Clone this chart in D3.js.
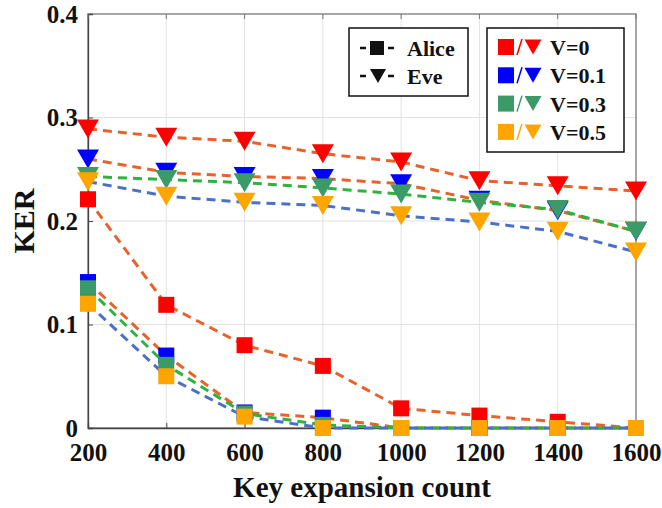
<!DOCTYPE html>
<html>
<head>
<meta charset="utf-8">
<script src="https://cdn.jsdelivr.net/npm/d3@7"></script>
<style>
  body { margin: 0; background: #fff; }
  text { font-family: "Liberation Serif", "Times New Roman", serif; font-weight: bold; fill: #111; }
</style>
</head>
<body>
<div id="chart"></div>
<script>
// key expansion counts (x)
const keyCounts = [200, 400, 600, 800, 1000, 1200, 1400, 1600];

// Alice KER for each V
const aliceV0  = [0.221, 0.119, 0.080, 0.060, 0.019, 0.012, 0.006, 0];
const aliceV01 = [0.141, 0.070, 0.015, 0.010, 0, 0, 0, 0];
const aliceV03 = [0.135, 0.061, 0.014, 0.003, 0, 0, 0, 0];
const aliceV05 = [0.120, 0.050, 0.011, 0, 0, 0, 0, 0];

// Eve KER for each V
const eveV0  = [0.289, 0.281, 0.277, 0.265, 0.257, 0.239, 0.234, 0.229];
const eveV01 = [0.260, 0.247, 0.243, 0.241, 0.236, 0.220, 0.210, 0.190];
const eveV03 = [0.243, 0.240, 0.237, 0.232, 0.226, 0.218, 0.211, 0.190];
const eveV05 = [0.238, 0.224, 0.218, 0.215, 0.205, 0.199, 0.190, 0.170];

const vLabels = ["V=0", "V=0.1", "V=0.3", "V=0.5"];
const userLabels = ["Alice", "Eve"];
const yTicks = [0, 0.1, 0.2, 0.3, 0.4];

const markerColor = ["#ff0000", "#0000ff", "#3a9a68", "#ffa500"];
const lineColor = ["#e8622c", "#e8622c", "#2fb33f", "#4a70c8"];

const W = 662, H = 508;
const svg = d3.select("#chart").append("svg")
  .attr("width", W).attr("height", H);

const x = d3.scaleLinear().domain([200, 1600]).range([88, 636]);
const y = d3.scaleLinear().domain([0, 0.4]).range([428, 14]);

// grid
svg.append("g").selectAll("line").data(keyCounts.slice(1, -1)).join("line")
  .attr("x1", d => x(d)).attr("x2", d => x(d))
  .attr("y1", y(0.4)).attr("y2", y(0))
  .attr("stroke", "#e2e2e2").attr("stroke-width", 1);
svg.append("g").selectAll("line").data(yTicks.slice(1, -1)).join("line")
  .attr("x1", x(200)).attr("x2", x(1600))
  .attr("y1", d => y(d)).attr("y2", d => y(d))
  .attr("stroke", "#e2e2e2").attr("stroke-width", 1);

// frame
svg.append("rect")
  .attr("x", x(200)).attr("y", y(0.4))
  .attr("width", x(1600) - x(200)).attr("height", y(0) - y(0.4))
  .attr("fill", "none").attr("stroke", "#777").attr("stroke-width", 1.3);

// axes
const xAxis = svg.append("g").attr("transform", `translate(0,${y(0)})`)
  .call(d3.axisBottom(x).tickValues(keyCounts).tickSize(-5).tickPadding(10).tickFormat(d3.format("d")));
const yAxis = svg.append("g").attr("transform", `translate(${x(200)},0)`)
  .call(d3.axisLeft(y).tickValues(yTicks).tickSize(-5).tickPadding(10).tickFormat(d3.format("~g")));
[xAxis, yAxis].forEach(a => {
  a.attr("font-family", null);
  a.select(".domain").attr("stroke", "#444").attr("stroke-width", 1.3);
  a.selectAll(".tick line").attr("stroke", "#444");
  a.selectAll(".tick text").style("font-size", "25px")
    .style("font-family", "'Liberation Serif', serif").style("font-weight", "bold").attr("fill", "#111");
});
xAxis.selectAll(".tick text").attr("dy", "0.9em");
// top ticks
svg.append("g").selectAll("line").data(keyCounts).join("line")
  .attr("x1", d => x(d)).attr("x2", d => x(d))
  .attr("y1", y(0.4)).attr("y2", y(0.4) + 5).attr("stroke", "#777");

svg.append("text").attr("x", (x(200) + x(1600)) / 2).attr("y", 497)
  .attr("text-anchor", "middle").style("font-size", "29px").text("Key expansion count");
svg.append("text")
  .attr("transform", `translate(34,${(y(0) + y(0.4)) / 2}) rotate(-90)`)
  .attr("text-anchor", "middle").style("font-size", "30px").text("KER");

const triW = 22, triH = 19, sq = 16;
const triPath = (w, h) => `M${-w / 2},${-h / 2}L${w / 2},${-h / 2}L0,${h / 2}Z`;

const line = d3.line().x((d, i) => x(keyCounts[i])).y(d => y(d));

const alice = [aliceV0, aliceV01, aliceV03, aliceV05];
const eve = [eveV0, eveV01, eveV03, eveV05];

function drawSeries(vals, k, kind) {
  const g = svg.append("g");
  g.append("path").datum(vals).attr("d", line)
    .attr("fill", "none").attr("stroke", lineColor[k])
    .attr("stroke-width", 3).attr("stroke-dasharray", "9,6");
  if (kind === "sq") {
    g.selectAll("rect").data(vals).join("rect")
      .attr("x", (d, i) => x(keyCounts[i]) - sq / 2).attr("y", d => y(d) - sq / 2)
      .attr("width", sq).attr("height", sq).attr("fill", markerColor[k]);
  } else {
    g.selectAll("path.m").data(vals).join("path").attr("class", "m")
      .attr("transform", (d, i) => `translate(${x(keyCounts[i])},${y(d)})`)
      .attr("d", triPath(triW, triH)).attr("fill", markerColor[k]);
  }
}
alice.forEach((v, k) => drawSeries(v, k, "sq"));
eve.forEach((v, k) => drawSeries(v, k, "tri"));

// legend: users
const lg1 = svg.append("g");
lg1.append("rect").attr("x", 349).attr("y", 28).attr("width", 119).attr("height", 68)
  .attr("fill", "#fff").attr("stroke", "#111").attr("stroke-width", 1.5);
userLabels.forEach((lab, i) => {
  const cy = 48 + i * 28;
  const r = lg1.append("g");
  r.append("line").attr("x1", 360).attr("x2", 366).attr("y1", cy).attr("y2", cy).attr("stroke", "#111").attr("stroke-width", 2.5);
  r.append("line").attr("x1", 388).attr("x2", 394).attr("y1", cy).attr("y2", cy).attr("stroke", "#111").attr("stroke-width", 2.5);
  if (i === 0) {
    r.append("rect").attr("x", 370).attr("y", cy - 7).attr("width", 14).attr("height", 14).attr("fill", "#111");
  } else {
    r.append("path").attr("transform", `translate(378,${cy})`).attr("d", triPath(16, 14)).attr("fill", "#111");
  }
  r.append("text").attr("x", 407).attr("y", cy + 8).style("font-size", "22px").text(lab);
});

// legend: V
const lg2 = svg.append("g");
lg2.append("rect").attr("x", 487).attr("y", 28).attr("width", 137).attr("height", 124)
  .attr("fill", "#fff").attr("stroke", "#111").attr("stroke-width", 1.5);
vLabels.forEach((lab, k) => {
  const cy = 47 + k * 28.3;
  lg2.append("rect").attr("x", 498).attr("y", cy - 8).attr("width", 16).attr("height", 16).attr("fill", markerColor[k]);
  lg2.append("line").attr("x1", 517).attr("x2", 522).attr("y1", cy + 8).attr("y2", cy - 8)
    .attr("stroke", markerColor[k]).attr("stroke-width", 1.5);
  lg2.append("path").attr("transform", `translate(533,${cy})`).attr("d", triPath(17, 15)).attr("fill", markerColor[k]);
  lg2.append("text").attr("x", 550).attr("y", cy + 8).style("font-size", "22px").text(lab);
});
</script>
</body>
</html>
